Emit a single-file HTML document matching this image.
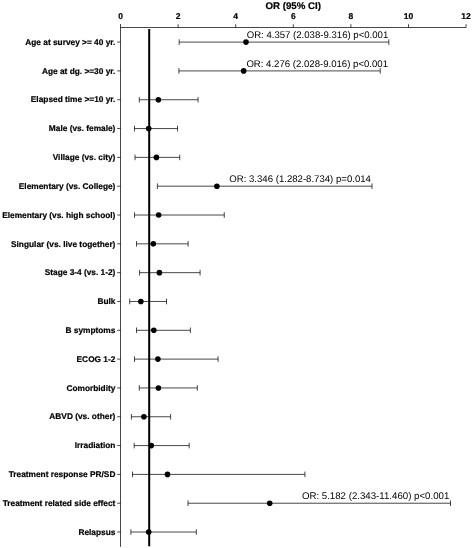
<!DOCTYPE html>
<html><head><meta charset="utf-8"><title>OR (95% CI)</title>
<style>
html,body{margin:0;padding:0;background:#fff;}
svg{display:block;}
text{font-family:"Liberation Sans",sans-serif;fill:#000;text-rendering:geometricPrecision;}
.lab,.tk,.ttl{stroke:#000;stroke-width:0.2px;}
.lab{font-size:8.32px;font-weight:bold;text-anchor:end;}
.tk{font-size:8.5px;font-weight:bold;text-anchor:middle;}
.an{font-size:9.6px;}
.ttl{font-size:9.7px;font-weight:bold;text-anchor:middle;}
</style></head><body>
<svg width="472" height="548" viewBox="0 0 472 548">
<rect width="472" height="548" fill="#fff"/>
<text class="ttl" x="293.2" y="9">OR (95% CI)</text>
<g stroke="#000" stroke-width="0.72" fill="none">
<path d="M120.5 27.5H466.1"/>
<path d="M120.5 24.0V546.8"/>
<path d="M178.10 27.5V24.2"/>
<path d="M235.70 27.5V24.2"/>
<path d="M293.30 27.5V24.2"/>
<path d="M350.90 27.5V24.2"/>
<path d="M408.50 27.5V24.2"/>
<path d="M466.10 27.5V24.2"/>
<path d="M120.5 42.10H117.2"/>
<path d="M120.5 70.92H117.2"/>
<path d="M120.5 99.74H117.2"/>
<path d="M120.5 128.56H117.2"/>
<path d="M120.5 157.38H117.2"/>
<path d="M120.5 186.20H117.2"/>
<path d="M120.5 215.02H117.2"/>
<path d="M120.5 243.84H117.2"/>
<path d="M120.5 272.66H117.2"/>
<path d="M120.5 301.48H117.2"/>
<path d="M120.5 330.30H117.2"/>
<path d="M120.5 359.12H117.2"/>
<path d="M120.5 387.94H117.2"/>
<path d="M120.5 416.76H117.2"/>
<path d="M120.5 445.58H117.2"/>
<path d="M120.5 474.40H117.2"/>
<path d="M120.5 503.22H117.2"/>
<path d="M120.5 532.04H117.2"/>
<path d="M179.2 42.10H388.8M179.2 39.30V44.90M388.8 39.30V44.90"/>
<path d="M178.9 70.92H380.2M178.9 68.12V73.72M380.2 68.12V73.72"/>
<path d="M139.3 99.74H198.05M139.3 96.94V102.54M198.05 96.94V102.54"/>
<path d="M134.5 128.56H177.5M134.5 125.76V131.36M177.5 125.76V131.36"/>
<path d="M135.0 157.38H179.75M135.0 154.58V160.18M179.75 154.58V160.18"/>
<path d="M157.4 186.20H372.0M157.4 183.40V189.00M372.0 183.40V189.00"/>
<path d="M134.5 215.02H224.25M134.5 212.22V217.82M224.25 212.22V217.82"/>
<path d="M136.5 243.84H188.1M136.5 241.04V246.64M188.1 241.04V246.64"/>
<path d="M139.6 272.66H200.1M139.6 269.86V275.46M200.1 269.86V275.46"/>
<path d="M129.7 301.48H166.5M129.7 298.68V304.28M166.5 298.68V304.28"/>
<path d="M136.5 330.30H190.4M136.5 327.50V333.10M190.4 327.50V333.10"/>
<path d="M134.5 359.12H218.1M134.5 356.32V361.92M218.1 356.32V361.92"/>
<path d="M139.3 387.94H197.3M139.3 385.14V390.74M197.3 385.14V390.74"/>
<path d="M131.4 416.76H170.6M131.4 413.96V419.56M170.6 413.96V419.56"/>
<path d="M134.2 445.58H189.2M134.2 442.78V448.38M189.2 442.78V448.38"/>
<path d="M132.5 474.40H304.9M132.5 471.60V477.20M304.9 471.60V477.20"/>
<path d="M188.0 503.22H450.5M188.0 500.42V506.02M450.5 500.42V506.02"/>
<path d="M130.9 532.04H196.3M130.9 529.24V534.84M196.3 529.24V534.84"/>
</g>
<path d="M149.2 29V546.3" stroke="#000" stroke-width="2"/>
<circle cx="246.0" cy="42.10" r="2.8" fill="#000"/>
<circle cx="243.65" cy="70.92" r="2.8" fill="#000"/>
<circle cx="158.4" cy="99.74" r="2.8" fill="#000"/>
<circle cx="148.7" cy="128.56" r="2.8" fill="#000"/>
<circle cx="156.4" cy="157.38" r="2.8" fill="#000"/>
<circle cx="216.9" cy="186.20" r="2.8" fill="#000"/>
<circle cx="158.65" cy="215.02" r="2.8" fill="#000"/>
<circle cx="153.3" cy="243.84" r="2.8" fill="#000"/>
<circle cx="159.4" cy="272.66" r="2.8" fill="#000"/>
<circle cx="140.85" cy="301.48" r="2.8" fill="#000"/>
<circle cx="153.8" cy="330.30" r="2.8" fill="#000"/>
<circle cx="157.9" cy="359.12" r="2.8" fill="#000"/>
<circle cx="158.4" cy="387.94" r="2.8" fill="#000"/>
<circle cx="143.9" cy="416.76" r="2.8" fill="#000"/>
<circle cx="151.3" cy="445.58" r="2.8" fill="#000"/>
<circle cx="167.5" cy="474.40" r="2.8" fill="#000"/>
<circle cx="269.7" cy="503.22" r="2.8" fill="#000"/>
<circle cx="148.7" cy="532.04" r="2.8" fill="#000"/>
<text class="tk" x="120.50" y="19.4">0</text>
<text class="tk" x="178.10" y="19.4">2</text>
<text class="tk" x="235.70" y="19.4">4</text>
<text class="tk" x="293.30" y="19.4">6</text>
<text class="tk" x="350.90" y="19.4">8</text>
<text class="tk" x="408.50" y="19.4">10</text>
<text class="tk" x="466.10" y="19.4">12</text>
<text class="lab" x="115.4" y="44.80">Age at survey &gt;= 40 yr.</text>
<text class="lab" x="115.4" y="73.62">Age at dg. &gt;=30 yr.</text>
<text class="lab" x="115.4" y="102.44">Elapsed time &gt;=10 yr.</text>
<text class="lab" x="115.4" y="131.26">Male (vs. female)</text>
<text class="lab" x="115.4" y="160.08">Village (vs. city)</text>
<text class="lab" x="115.4" y="188.90">Elementary (vs. College)</text>
<text class="lab" x="115.4" y="217.72">Elementary (vs. high school)</text>
<text class="lab" x="115.4" y="246.54">Singular (vs. live together)</text>
<text class="lab" x="115.4" y="275.36">Stage 3-4 (vs. 1-2)</text>
<text class="lab" x="115.4" y="304.18">Bulk</text>
<text class="lab" x="115.4" y="333.00">B symptoms</text>
<text class="lab" x="115.4" y="361.82">ECOG 1-2</text>
<text class="lab" x="115.4" y="390.64">Comorbidity</text>
<text class="lab" x="115.4" y="419.46">ABVD (vs. other)</text>
<text class="lab" x="115.4" y="448.28">Irradiation</text>
<text class="lab" x="115.4" y="477.10">Treatment response PR/SD</text>
<text class="lab" x="115.4" y="505.92">Treatment related side effect</text>
<text class="lab" x="115.4" y="534.74">Relapsus</text>
<text class="an" x="246.7" y="37.90">OR: 4.357 (2.038-9.316) p&lt;0.001</text>
<text class="an" x="246.4" y="66.72">OR: 4.276 (2.028-9.016) p&lt;0.001</text>
<text class="an" x="229.3" y="182.00">OR: 3.346 (1.282-8.734) p=0.014</text>
<text class="an" style="font-size:9.69px" x="301.9" y="499.02">OR: 5.182 (2.343-11.460) p&lt;0.001</text>
</svg></body></html>
